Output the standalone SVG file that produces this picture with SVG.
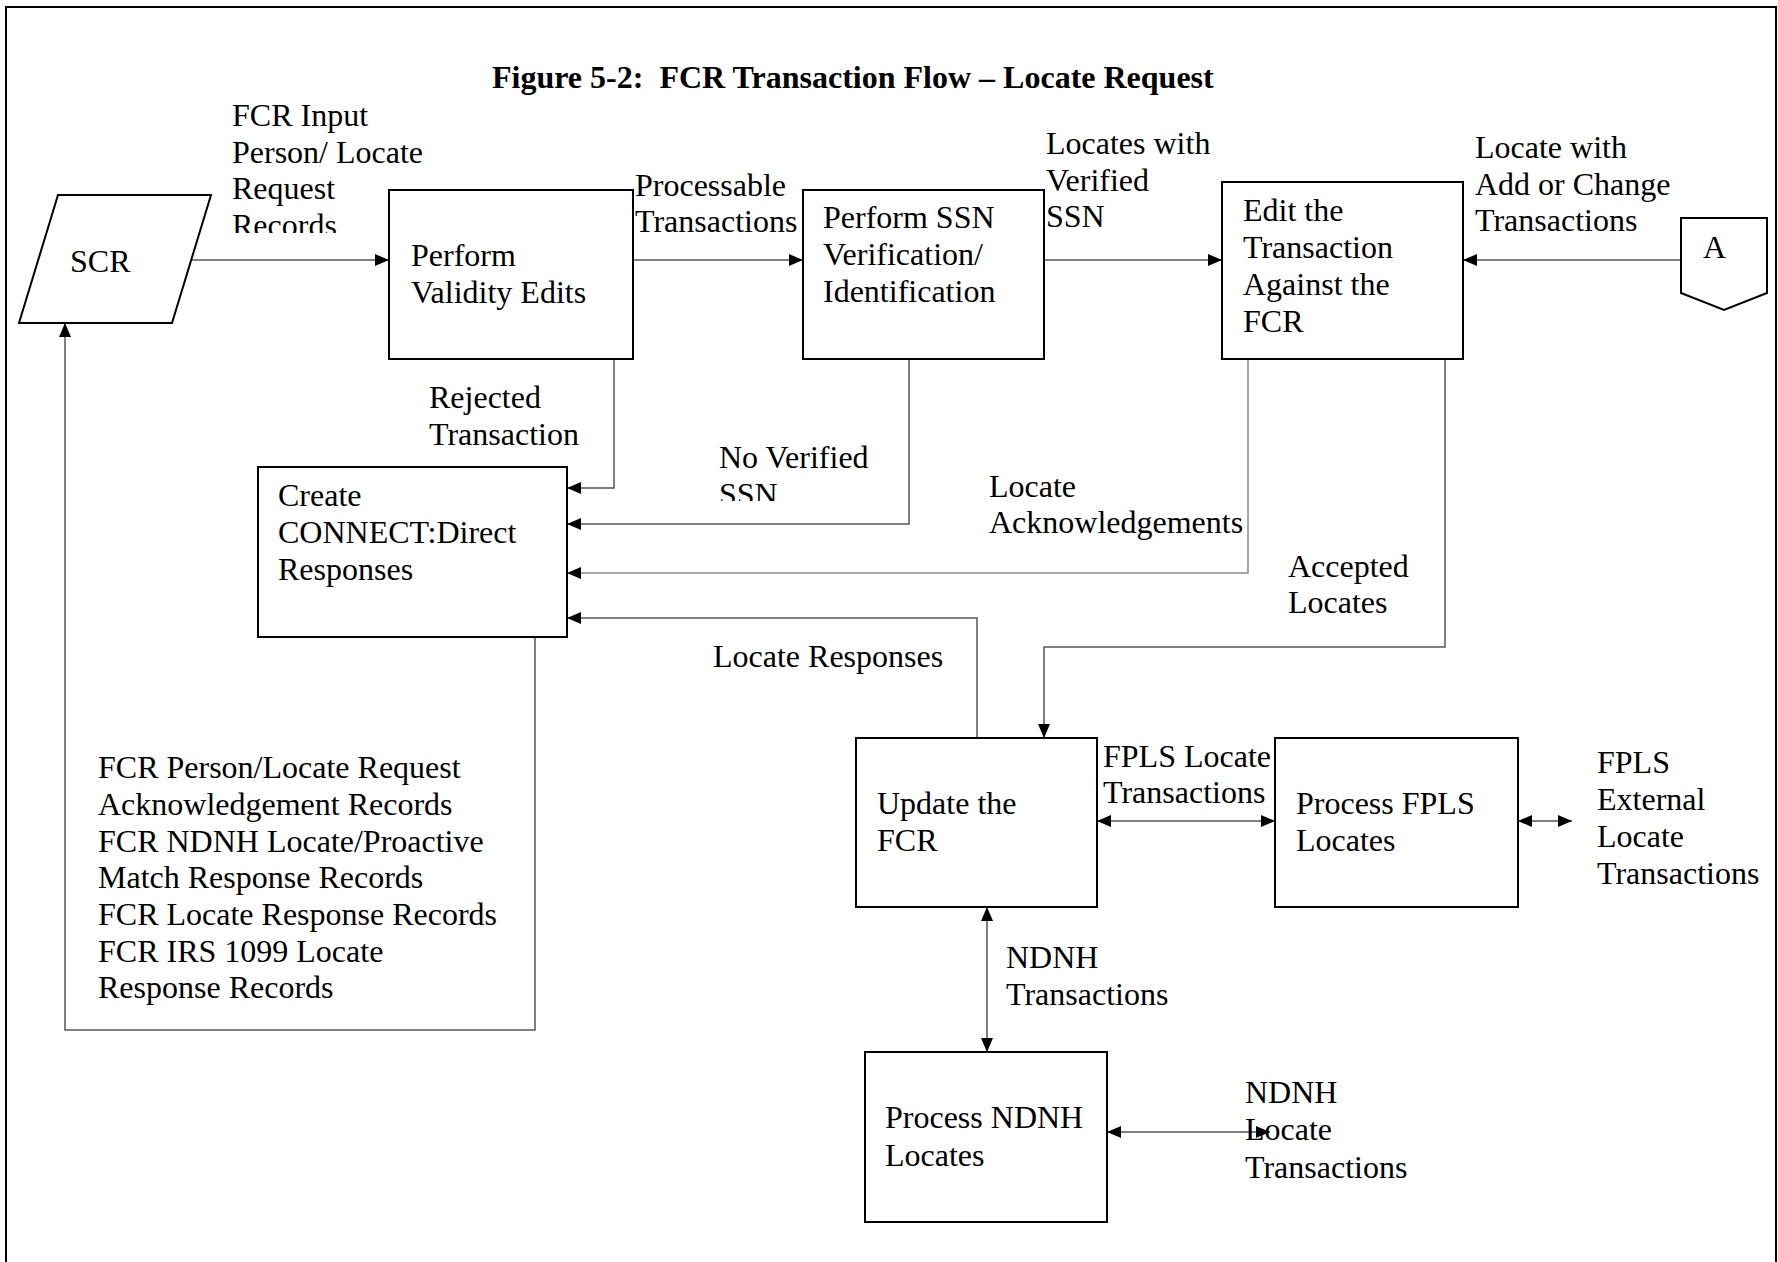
<svg xmlns="http://www.w3.org/2000/svg" width="1778" height="1262" viewBox="0 0 1778 1262">
<style>
.t{font-family:"Liberation Serif","Times New Roman",serif;font-size:32px;fill:#000}
.title{font-family:"Liberation Serif","Times New Roman",serif;font-size:32px;font-weight:bold;fill:#000}
.box{fill:#fff;stroke:#000;stroke-width:2}
.c{fill:none;stroke:#555;stroke-width:1.5}
.cl{fill:none;stroke:#8a8a8a;stroke-width:1.5}
</style>
<defs>
<marker id="ah" viewBox="0 0 14 12" refX="14" refY="6" markerWidth="14" markerHeight="12" markerUnits="userSpaceOnUse" orient="auto-start-reverse">
<path d="M0,0 L14,6 L0,12 z" fill="#000"/>
</marker>
<clipPath id="clipIn"><rect x="200" y="90" width="300" height="143"/></clipPath>
<clipPath id="clipNo"><rect x="700" y="420" width="200" height="81"/></clipPath>
</defs>
<rect x="0" y="0" width="1778" height="1262" fill="#fff"/>
<rect x="6" y="7" width="1770" height="1270" fill="none" stroke="#000" stroke-width="2"/>
<text class="title" x="492" y="88" xml:space="preserve">Figure 5-2:  FCR Transaction Flow – Locate Request</text>

<g id="connectors">
<line class="c" x1="191" y1="260" x2="389" y2="260" marker-end="url(#ah)"/>
<line class="c" x1="633" y1="260" x2="803" y2="260" marker-end="url(#ah)"/>
<line class="c" x1="1044" y1="260" x2="1222" y2="260" marker-end="url(#ah)"/>
<line class="c" x1="1681" y1="260" x2="1463" y2="260" marker-end="url(#ah)"/>
<polyline class="c" points="614,359 614,488 567,488" marker-end="url(#ah)"/>
<polyline class="c" points="909,359 909,524 567,524" marker-end="url(#ah)"/>
<polyline class="cl" points="1248,359 1248,573 567,573" marker-end="url(#ah)"/>
<polyline class="c" points="977,738 977,618 567,618" marker-end="url(#ah)"/>
<polyline class="c" points="1445,359 1445,647 1044,647 1044,738" marker-end="url(#ah)"/>
<polyline class="c" points="535,637 535,1030 65,1030 65,323" marker-end="url(#ah)"/>
<line class="c" x1="1097" y1="821" x2="1275" y2="821" marker-start="url(#ah)" marker-end="url(#ah)"/>
<line class="c" x1="1518" y1="821" x2="1572" y2="821" marker-start="url(#ah)" marker-end="url(#ah)"/>
<line class="c" x1="987" y1="907" x2="987" y2="1052" marker-start="url(#ah)" marker-end="url(#ah)"/>
<line class="c" x1="1107" y1="1132" x2="1270" y2="1132" marker-start="url(#ah)" marker-end="url(#ah)"/>
</g>

<g id="labels">
<g clip-path="url(#clipIn)">
<text class="t" x="232" y="126">FCR Input</text>
<text class="t" x="232" y="162.7">Person/ Locate</text>
<text class="t" x="232" y="199.3">Request</text>
<text class="t" x="232" y="236">Records</text>
</g>
<text class="t" x="635" y="196">Processable</text>
<text class="t" x="635" y="232">Transactions</text>
<text class="t" x="1046" y="154">Locates with</text>
<text class="t" x="1046" y="190.5">Verified</text>
<text class="t" x="1046" y="227">SSN</text>
<text class="t" x="1475" y="158">Locate with</text>
<text class="t" x="1475" y="195">Add or Change</text>
<text class="t" x="1475" y="231">Transactions</text>
<text class="t" x="429" y="408">Rejected</text>
<text class="t" x="429" y="445">Transaction</text>
<g clip-path="url(#clipNo)">
<text class="t" x="719" y="468">No Verified</text>
<text class="t" x="719" y="505">SSN</text>
</g>
<text class="t" x="989" y="497">Locate</text>
<text class="t" x="989" y="533">Acknowledgements</text>
<text class="t" x="1288" y="577">Accepted</text>
<text class="t" x="1288" y="613">Locates</text>
<text class="t" x="713" y="667">Locate Responses</text>
<text class="t" x="98" y="778">FCR Person/Locate Request</text>
<text class="t" x="98" y="815">Acknowledgement Records</text>
<text class="t" x="98" y="852">FCR NDNH Locate/Proactive</text>
<text class="t" x="98" y="888">Match Response Records</text>
<text class="t" x="98" y="925">FCR Locate Response Records</text>
<text class="t" x="98" y="962">FCR IRS 1099 Locate</text>
<text class="t" x="98" y="998">Response Records</text>
<text class="t" x="1103" y="767">FPLS Locate</text>
<text class="t" x="1103" y="803">Transactions</text>
<text class="t" x="1597" y="773">FPLS</text>
<text class="t" x="1597" y="810">External</text>
<text class="t" x="1597" y="847">Locate</text>
<text class="t" x="1597" y="884">Transactions</text>
<text class="t" x="1006" y="968">NDNH</text>
<text class="t" x="1006" y="1005">Transactions</text>
<text class="t" x="1245" y="1103">NDNH</text>
<text class="t" x="1245" y="1140">Locate</text>
<text class="t" x="1245" y="1178">Transactions</text>
</g>

<g id="scr">
<polygon class="box" points="58,195 211,195 172,323 19,323"/>
<text class="t" x="70" y="272">SCR</text>
</g>
<g id="validity">
<rect class="box" x="389" y="190" width="244" height="169"/>
<text class="t" x="411" y="266">Perform</text>
<text class="t" x="411" y="302.7">Validity Edits</text>
</g>
<g id="ssn">
<rect class="box" x="803" y="190" width="241" height="169"/>
<text class="t" x="823" y="228">Perform SSN</text>
<text class="t" x="823" y="265">Verification/</text>
<text class="t" x="823" y="301.7">Identification</text>
</g>
<g id="edit">
<rect class="box" x="1222" y="182" width="241" height="177"/>
<text class="t" x="1243" y="220.5">Edit the</text>
<text class="t" x="1243" y="257.5">Transaction</text>
<text class="t" x="1243" y="294.5">Against the</text>
<text class="t" x="1243" y="331.5">FCR</text>
</g>
<g id="offpageA">
<polygon class="box" points="1681,218 1767,218 1767,293 1724,310 1681,293"/>
<text class="t" x="1703" y="258">A</text>
</g>
<g id="create">
<rect class="box" x="258" y="467" width="309" height="170"/>
<text class="t" x="278" y="506">Create</text>
<text class="t" x="278" y="542.7">CONNECT:Direct</text>
<text class="t" x="278" y="580">Responses</text>
</g>
<g id="update">
<rect class="box" x="856" y="738" width="241" height="169"/>
<text class="t" x="877" y="814">Update the</text>
<text class="t" x="877" y="850.7">FCR</text>
</g>
<g id="fpls">
<rect class="box" x="1275" y="738" width="243" height="169"/>
<text class="t" x="1296" y="814">Process FPLS</text>
<text class="t" x="1296" y="850.7">Locates</text>
</g>
<g id="ndnh">
<rect class="box" x="865" y="1052" width="242" height="170"/>
<text class="t" x="885" y="1128">Process NDNH</text>
<text class="t" x="885" y="1166">Locates</text>
</g>
</svg>
